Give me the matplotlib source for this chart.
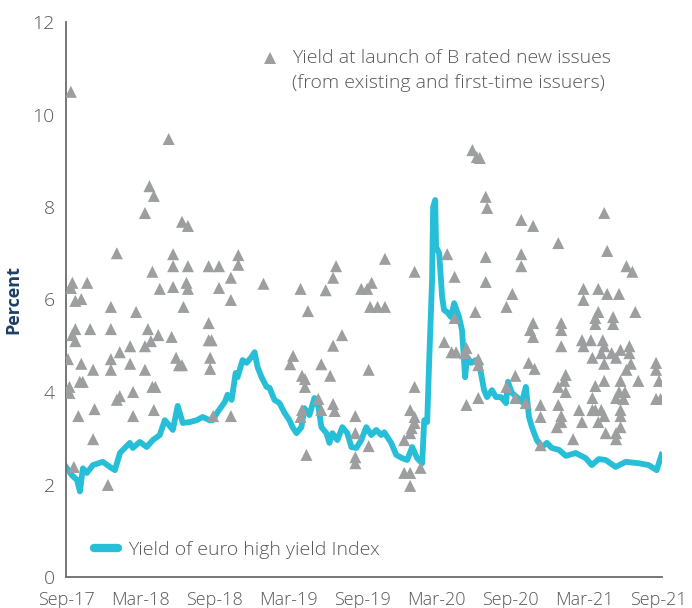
import matplotlib
matplotlib.use("Agg")
import matplotlib.pyplot as plt
from matplotlib.lines import Line2D

# --- data: euro high yield index (decimal year, yield %) ---
hy_date = [2017.667, 2017.707, 2017.741, 2017.761, 2017.781, 2017.808, 2017.849, 2017.916,
           2017.963, 2017.997, 2018.031, 2018.064, 2018.098, 2018.118, 2018.165, 2018.212,
           2018.253, 2018.300, 2018.334, 2018.361, 2018.388, 2018.421, 2018.455, 2018.502,
           2018.549, 2018.590, 2018.637, 2018.657, 2018.691, 2018.738, 2018.758, 2018.785,
           2018.812, 2018.825, 2018.859, 2018.886, 2018.920, 2018.940, 2018.960, 2018.987,
           2019.021, 2019.041, 2019.074, 2019.108, 2019.142, 2019.175, 2019.196, 2019.223,
           2019.256, 2019.276, 2019.310, 2019.344, 2019.371, 2019.391, 2019.425, 2019.445,
           2019.465, 2019.499, 2019.532, 2019.566, 2019.593, 2019.627, 2019.660, 2019.694,
           2019.728, 2019.761, 2019.795, 2019.815, 2019.862, 2019.896, 2019.936, 2019.970,
           2020.004, 2020.037, 2020.071, 2020.085, 2020.105, 2020.118, 2020.138, 2020.145,
           2020.159, 2020.165, 2020.186, 2020.206, 2020.219, 2020.239, 2020.266, 2020.287,
           2020.320, 2020.340, 2020.361, 2020.374, 2020.401, 2020.435, 2020.455, 2020.489,
           2020.509, 2020.542, 2020.569, 2020.603, 2020.637, 2020.650, 2020.677, 2020.711,
           2020.744, 2020.771, 2020.792, 2020.812, 2020.845, 2020.879, 2020.913, 2020.946,
           2020.994, 2021.041, 2021.108, 2021.175, 2021.216, 2021.263, 2021.310, 2021.377,
           2021.445, 2021.532, 2021.600, 2021.654, 2021.687]
hy_yield = [2.38, 2.20, 2.10, 1.85, 2.35, 2.25, 2.42, 2.49,
            2.38, 2.31, 2.68, 2.79, 2.90, 2.79, 2.92, 2.81,
            2.96, 3.07, 3.39, 3.29, 3.18, 3.70, 3.33, 3.35,
            3.39, 3.46, 3.39, 3.39, 3.57, 3.78, 3.94, 3.83,
            4.41, 4.32, 4.69, 4.63, 4.76, 4.86, 4.54, 4.32,
            4.11, 4.09, 3.83, 3.76, 3.55, 3.39, 3.24, 3.11,
            3.24, 3.65, 3.50, 3.87, 3.68, 3.24, 3.11, 2.90,
            3.11, 2.96, 3.24, 3.11, 2.81, 2.79, 2.96, 3.24,
            3.07, 3.18, 3.07, 3.13, 2.90, 2.64, 2.57, 2.53,
            2.81, 2.57, 2.46, 3.39, 3.35, 4.63, 6.42, 8.00,
            8.15, 7.14, 7.00, 6.05, 5.77, 5.73, 5.62, 5.92,
            5.62, 5.34, 4.32, 4.76, 4.63, 4.69, 4.63, 4.04,
            3.89, 4.04, 3.89, 3.89, 3.76, 4.22, 3.98, 3.89,
            3.78, 4.11, 3.46, 3.24, 2.96, 2.81, 2.90, 2.79,
            2.75, 2.62, 2.68, 2.57, 2.42, 2.55, 2.53, 2.38,
            2.49, 2.46, 2.42, 2.31, 2.64]

# --- data: yield at launch of B rated new issues ---
b_date = [2017.70, 2017.71, 2017.70, 2017.81, 2017.73, 2017.77, 2017.97, 2018.14, 2017.73, 2017.71,
          2017.73, 2017.83, 2017.97, 2018.10, 2018.03, 2017.68, 2017.77, 2017.97, 2018.10, 2017.85,
          2017.97, 2017.69, 2017.69, 2017.76, 2017.78, 2018.03, 2018.01, 2018.12, 2017.75, 2017.86,
          2018.12, 2017.85, 2017.72, 2017.95, 2018.01, 2018.36, 2018.23, 2018.26, 2018.20, 2018.25,
          2018.30, 2018.22, 2018.29, 2018.24, 2018.20, 2018.20, 2018.25, 2018.27, 2018.26, 2018.45,
          2018.49, 2018.39, 2018.39, 2018.49, 2018.63, 2018.70, 2018.83, 2018.83, 2018.78, 2018.39,
          2018.48, 2018.49, 2018.70, 2018.46, 2018.78, 2018.63, 2018.38, 2018.63, 2018.65, 2018.41,
          2018.43, 2018.45, 2018.64, 2018.64, 2018.66, 2018.78, 2019.00, 2019.25, 2019.42, 2019.49,
          2019.47, 2019.66, 2019.70, 2019.73, 2019.82, 2019.72, 2019.77, 2019.82, 2019.30, 2019.53,
          2019.47, 2019.20, 2019.18, 2019.39, 2019.26, 2019.28, 2019.28, 2019.45, 2019.71, 2019.37,
          2019.47, 2019.48, 2019.39, 2019.26, 2019.25, 2019.62, 2019.62, 2019.71, 2019.62, 2019.62,
          2019.29, 2020.02, 2020.02, 2019.99, 2020.02, 2020.02, 2020.00, 2019.99, 2019.95, 2019.95,
          2019.99, 2019.99, 2020.06, 2020.24, 2020.29, 2020.29, 2020.22, 2020.27, 2020.30, 2020.36,
          2020.37, 2020.37, 2020.41, 2020.44, 2020.46, 2020.50, 2020.51, 2020.74, 2020.82, 2020.99,
          2020.50, 2020.74, 2020.74, 2020.50, 2020.68, 2020.64, 2020.43, 2020.82, 2020.80, 2020.82,
          2020.45, 2020.45, 2020.79, 2020.83, 2020.70, 2020.64, 2020.70, 2020.77, 2020.45, 2020.87,
          2020.87, 2020.87, 2021.01, 2021.01, 2021.01, 2021.04, 2021.03, 2020.99, 2021.04, 2020.99,
          2021.01, 2021.01, 2020.98, 2021.30, 2021.32, 2021.45, 2021.49, 2021.16, 2021.16, 2021.26,
          2021.32, 2021.40, 2021.51, 2021.26, 2021.24, 2021.24, 2021.36, 2021.36, 2021.15, 2021.21,
          2021.16, 2021.29, 2021.30, 2021.28, 2021.22, 2021.41, 2021.47, 2021.47, 2021.35, 2021.38,
          2021.30, 2021.48, 2021.45, 2021.65, 2021.65, 2021.67, 2021.53, 2021.41, 2021.30, 2021.24,
          2021.40, 2021.38, 2021.44, 2021.43, 2021.22, 2021.65, 2021.68, 2021.13, 2021.22, 2021.24,
          2021.28, 2021.41, 2021.41, 2021.30, 2021.15, 2021.26, 2021.41, 2021.31, 2021.38, 2021.38,
          2021.09]
b_yield = [10.49, 6.36, 6.25, 6.36, 5.97, 6.01, 5.84, 5.73, 5.36, 5.23,
           5.10, 5.36, 5.36, 4.99, 4.86, 4.71, 4.61, 4.71, 4.61, 4.48,
           4.48, 4.11, 3.98, 4.22, 4.22, 3.91, 3.83, 4.00, 3.48, 3.63,
           3.48, 2.98, 2.38, 1.99, 7.00, 9.47, 8.45, 8.24, 7.87, 6.60,
           6.23, 5.36, 5.23, 5.10, 4.99, 4.48, 4.11, 4.11, 3.61, 7.68,
           7.59, 6.98, 6.72, 6.72, 6.72, 6.72, 6.96, 6.75, 6.47, 6.27,
           6.36, 6.23, 6.25, 5.84, 5.99, 5.49, 5.19, 5.12, 5.12, 4.74,
           4.58, 4.58, 4.74, 4.50, 3.48, 3.48, 6.34, 6.23, 6.20, 6.72,
           6.47, 6.23, 6.23, 6.36, 6.88, 5.84, 5.84, 5.84, 5.75, 5.23,
           5.00, 4.78, 4.60, 4.60, 4.35, 4.28, 4.11, 4.35, 4.48, 3.85,
           3.74, 3.59, 3.61, 3.61, 3.46, 3.48, 3.11, 2.83, 2.59, 2.46,
           2.64, 6.60, 4.11, 3.61, 3.46, 3.33, 3.22, 3.11, 2.96, 2.25,
           2.25, 1.97, 2.36, 6.98, 6.49, 5.60, 5.08, 4.86, 4.86, 4.84,
           4.95, 3.72, 9.23, 9.08, 9.06, 8.22, 7.98, 7.72, 7.59, 7.22,
           6.92, 6.98, 6.72, 6.38, 6.12, 5.84, 5.73, 5.49, 5.34, 5.19,
           4.71, 4.58, 4.63, 4.50, 4.35, 4.11, 3.87, 3.76, 3.87, 3.72,
           3.46, 2.85, 5.49, 5.34, 4.99, 4.37, 4.24, 4.11, 4.00, 3.72,
           3.48, 3.35, 3.24, 7.87, 7.05, 6.72, 6.60, 6.23, 5.99, 6.23,
           6.12, 6.12, 5.73, 5.73, 5.60, 5.47, 5.62, 5.47, 5.12, 5.12,
           4.99, 5.12, 4.99, 4.84, 4.74, 4.91, 4.99, 4.84, 4.84, 4.74,
           4.61, 4.61, 4.48, 4.63, 4.48, 4.24, 4.24, 4.24, 4.24, 4.13,
           4.00, 3.87, 4.00, 3.85, 3.87, 3.85, 3.85, 3.61, 3.61, 3.61,
           3.61, 3.61, 3.48, 3.48, 3.35, 3.35, 3.24, 3.11, 3.11, 2.98,
           2.98]

tick_pos = [2017.667, 2018.167, 2018.667, 2019.167, 2019.667, 2020.167, 2020.667, 2021.167, 2021.667]
tick_lab = ["Sep-17", "Mar-18", "Sep-18", "Mar-19", "Sep-19", "Mar-20", "Sep-20", "Mar-21", "Sep-21"]

CYAN = "#27bfd8"
GREY = "#9c9e9f"
TXT = "#575757"

plt.rcParams['font.family'] = ['Open Sans', 'DejaVu Sans']
plt.rcParams['font.weight'] = 'light'

fig = plt.figure(figsize=(6.92, 6.08), dpi=100)
ax = fig.add_axes([66 / 692, 31 / 608, 596 / 692, 555 / 608])

ax.plot(hy_date, hy_yield, color=CYAN, lw=4.2, solid_joinstyle='round', zorder=2)
sc = ax.scatter(b_date, b_yield, marker='^', s=75, color=GREY, edgecolors='none', zorder=3)

ax.set_xlim(2017.667, 2021.69)
ax.set_ylim(0, 12)
ax.set_yticks(range(0, 13, 2))
ax.set_xticks(tick_pos)
ax.set_xticklabels(tick_lab)
ax.tick_params(axis='x', length=0, labelsize=13, colors=TXT, pad=10)
ax.tick_params(axis='y', length=0, labelsize=14, colors=TXT, pad=8)

for side in ['top', 'right']:
    ax.spines[side].set_visible(False)
for side in ['left', 'bottom']:
    ax.spines[side].set_color('#6b6b6b')
    ax.spines[side].set_linewidth(1.3)

ax.set_ylabel("Percent", fontsize=13, fontweight='bold', color='#1c3f63')
ax.yaxis.set_label_coords(-0.074, 0.5)

# upper legend: triangle + two text lines
leg1 = ax.legend(handles=[sc], labels=["Yield at launch of B rated new issues"],
                 loc='center left', bbox_to_anchor=(0.326, 0.935),
                 frameon=False, fontsize=14, handlelength=1.0, handletextpad=0.65,
                 borderpad=0, borderaxespad=0, scatterpoints=1, labelcolor=TXT)
ax.add_artist(leg1)
ax.text(0.38, 0.89, "(from existing and first-time issuers)", transform=ax.transAxes,
        fontsize=14, color=TXT, va='center', ha='left')

hy_handle = Line2D([], [], color=CYAN, lw=6, solid_capstyle='round')
ax.legend(handles=[hy_handle], labels=["Yield of euro high yield Index"], loc='center left',
          bbox_to_anchor=(0.047, 0.049), frameon=False, fontsize=14, handlelength=1.24,
          handletextpad=0.52, borderpad=0, borderaxespad=0, labelcolor=TXT)

fig.savefig("out.png", dpi=100)
